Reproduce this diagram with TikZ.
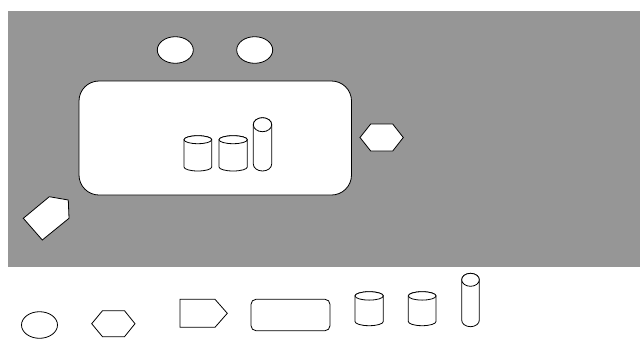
\documentclass[tikz,border=0pt]{standalone}
\definecolor{bggray}{RGB}{150,150,150}
\tikzset{
  shp/.style={draw=black, fill=white, line width=0.8pt},
  oval/.style={shp, ellipse, inner sep=0pt, minimum width=36pt, minimum height=26.6pt},
}
\usetikzlibrary{shapes.geometric}
\newcommand\mycyl[5]{%
  \pgfmathsetmacro\cxA{(#1+#2)/2}%
  \pgfmathsetmacro\rxA{(#2-#1)/2}%
  \filldraw[shp] (#1,#3+#5) -- (#1,#4-#5) arc[start angle=180,end angle=0,x radius=\rxA,y radius=#5] -- (#2,#3+#5) arc[start angle=0,end angle=-180,x radius=\rxA,y radius=#5] -- cycle;
  \draw[shp] (\cxA,#3+#5) ellipse[x radius=\rxA, y radius=#5];
}
\begin{document}
\begin{tikzpicture}[x=1pt,y=-1pt]
\useasboundingbox (0,0) rectangle (640,338);
\fill[bggray] (8,11) rectangle (640,266.5);
% top ellipses
\node[oval] (e1) at (175.3,50) {};
\node[oval] (e2) at (254.7,50) {};
% main rounded panel
\node[shp, rectangle, rounded corners=20pt, minimum width=272.5pt, minimum height=114pt, inner sep=0pt] (panel) at (215.25,138) {};
% cylinders in the panel
\mycyl{184}{211.7}{135.7}{171}{4}
\mycyl{219}{247.3}{135.7}{171}{4}
\mycyl{253.3}{271.7}{117.7}{171}{7}
% right hexagon
\filldraw[shp] (360,137.5) -- (370.7,124) -- (392.7,124) -- (403.3,137.5) -- (392.7,151) -- (370.7,151) -- cycle;
% rotated tag
\filldraw[shp] (23.3,218.3) -- (49.3,196.7) -- (68.3,200) -- (69,218.3) -- (42.3,240) -- cycle;
% bottom row
\node[oval] (e3) at (39.5,325) {};
\filldraw[shp] (91.7,323.7) -- (102.5,310.7) -- (124.5,310.7) -- (135,323.7) -- (124.5,336.7) -- (102.5,336.7) -- cycle;
\filldraw[shp] (180,299.3) -- (215,299.3) -- (227.3,313.3) -- (215,327.3) -- (180,327.3) -- cycle;
\node[shp, rectangle, rounded corners=5pt, minimum width=79pt, minimum height=31.4pt, inner sep=0pt] (rr) at (290.5,315) {};
\mycyl{355}{383.3}{291.7}{325.7}{4.2}
\mycyl{408.3}{436}{291.7}{325.7}{4.2}
\mycyl{461.7}{479.3}{273.3}{326.7}{6.5}
\end{tikzpicture}
\end{document}
